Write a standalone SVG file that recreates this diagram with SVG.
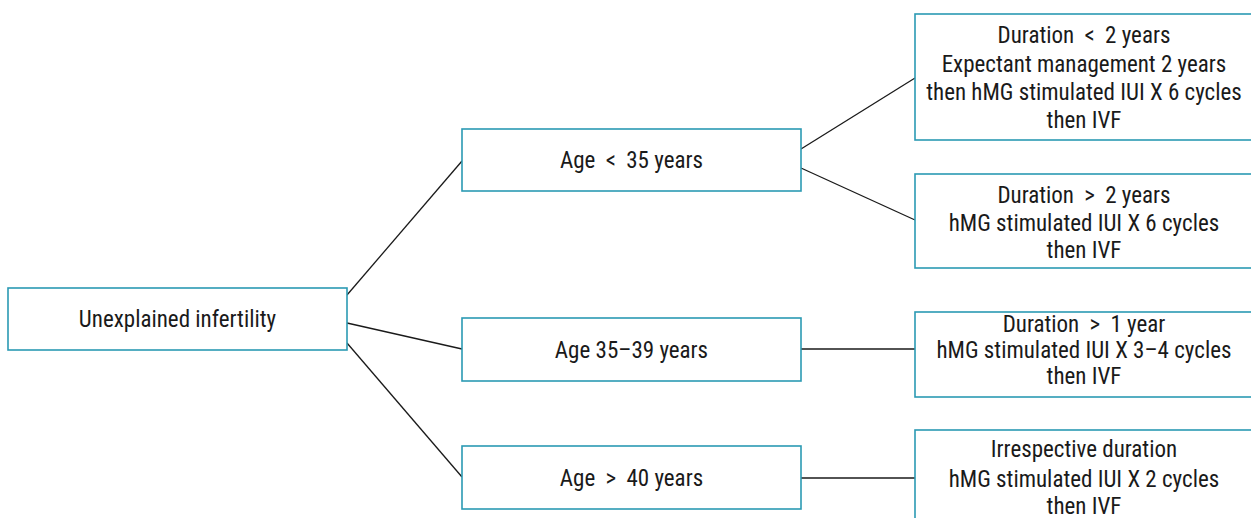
<svg xmlns="http://www.w3.org/2000/svg" width="1251" height="518" viewBox="0 0 1251 518">
<style>
.box{fill:#fff;stroke:#2b9ab3;stroke-width:1.6}
.t{font-family:"Liberation Sans Narrow","Roboto Condensed","DejaVu Sans Condensed",sans-serif;font-size:23px;fill:#1a1a1a;text-anchor:middle}
.c{stroke:#1a1a1a;stroke-width:1.3;fill:none}
</style>
<rect width="1251" height="518" fill="#fff"/>
<g id="connectors">
<line class="c" x1="347" y1="295" x2="462" y2="161"/>
<line class="c" x1="347" y1="323" x2="462" y2="349"/>
<line class="c" x1="347" y1="343" x2="462" y2="477"/>
<line class="c" x1="801" y1="149" x2="915" y2="78"/>
<line class="c" x1="801" y1="168" x2="915" y2="220"/>
<line class="c" x1="801" y1="349" x2="915" y2="349"/>
<line class="c" x1="801" y1="478" x2="915" y2="478"/>
</g>
<g id="root">
<rect class="box" x="8" y="288" width="339" height="62"/>
<text class="t" x="177.5" y="327">Unexplained infertility</text>
</g>
<g id="age1">
<rect class="box" x="462" y="129" width="339" height="62"/>
<text class="t" x="631.5" y="168">Age&#8194;&lt;&#8194;35 years</text>
</g>
<g id="age2">
<rect class="box" x="462" y="318" width="339" height="63"/>
<text class="t" x="631.5" y="358">Age 35–39 years</text>
</g>
<g id="age3">
<rect class="box" x="462" y="446" width="339" height="63"/>
<text class="t" x="631.5" y="486">Age&#8194;&gt;&#8194;40 years</text>
</g>
<g id="r1">
<rect class="box" x="915" y="14" width="339" height="126"/>
<text class="t" x="1084" y="43">Duration&#8194;&lt;&#8194;2 years</text>
<text class="t" x="1084" y="72">Expectant management 2 years</text>
<text class="t" x="1084" y="100">then hMG stimulated IUI X 6 cycles</text>
<text class="t" x="1084" y="128">then IVF</text>
</g>
<g id="r2">
<rect class="box" x="915" y="174" width="339" height="94"/>
<text class="t" x="1084" y="203">Duration&#8194;&gt;&#8194;2 years</text>
<text class="t" x="1084" y="231">hMG stimulated IUI X 6 cycles</text>
<text class="t" x="1084" y="258">then IVF</text>
</g>
<g id="r3">
<rect class="box" x="915" y="312" width="339" height="85"/>
<text class="t" x="1084" y="332">Duration&#8194;&gt;&#8194;1 year</text>
<text class="t" x="1084" y="358">hMG stimulated IUI X 3–4 cycles</text>
<text class="t" x="1084" y="384">then IVF</text>
</g>
<g id="r4">
<rect class="box" x="915" y="430" width="339" height="100"/>
<text class="t" x="1084" y="457">Irrespective duration</text>
<text class="t" x="1084" y="487">hMG stimulated IUI X 2 cycles</text>
<text class="t" x="1084" y="514">then IVF</text>
</g>
</svg>
